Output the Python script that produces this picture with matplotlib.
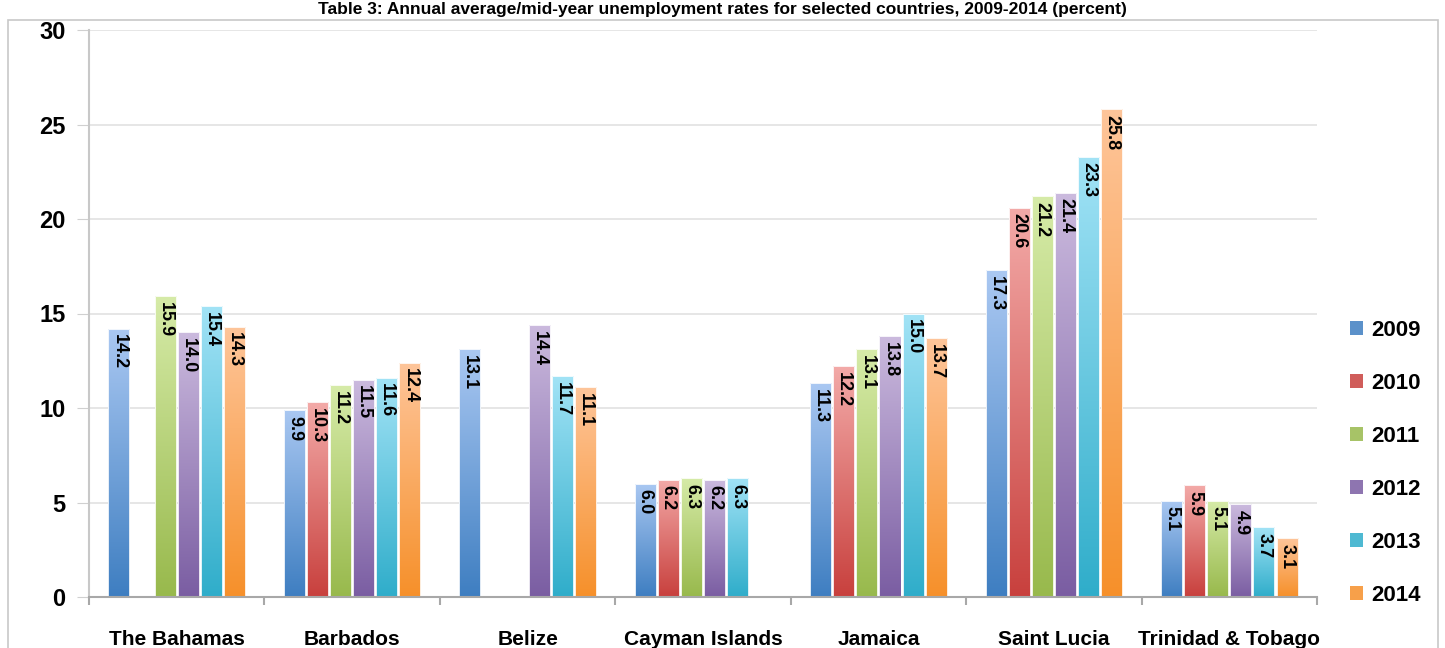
import numpy as np
import matplotlib.pyplot as plt
from matplotlib.colors import LinearSegmentedColormap
from matplotlib.patches import Rectangle

plt.rcParams['font.family'] = ['Liberation Sans', 'DejaVu Sans']

countries = ['The Bahamas', 'Barbados', 'Belize', 'Cayman Islands', 'Jamaica',
             'Saint Lucia', 'Trinidad & Tobago']
years = ['2009', '2010', '2011', '2012', '2013', '2014']
nan = np.nan
rates = {
    '2009': [14.2, 9.9, 13.1, 6.0, 11.3, 17.3, 5.1],
    '2010': [nan, 10.3, nan, 6.2, 12.2, 20.6, 5.9],
    '2011': [15.9, 11.2, nan, 6.3, 13.1, 21.2, 5.1],
    '2012': [14.0, 11.5, 14.4, 6.2, 13.8, 21.4, 4.9],
    '2013': [15.4, 11.6, 11.7, 6.3, 15.0, 23.3, 3.7],
    '2014': [14.3, 12.4, 11.1, nan, 13.7, 25.8, 3.1],
}
title = 'Table 3: Annual average/mid-year unemployment rates for selected countries, 2009-2014 (percent)'

# (top colour, bottom colour) for the gradient on each series
shades = {
    '2009': ('#aac8f2', '#3e7ec1'),
    '2010': ('#f3aaa8', '#c8403d'),
    '2011': ('#d6eba8', '#98b94c'),
    '2012': ('#cbbade', '#7a5da2'),
    '2013': ('#a2e3f6', '#2fadca'),
    '2014': ('#fec59a', '#f6902a'),
}

fig = plt.figure(figsize=(14.45, 6.48), dpi=100)
fig.patches.append(Rectangle((8 / 1445, -0.1), 1430 / 1445, 1.1 - 20 / 648,
                             transform=fig.transFigure, fill=False,
                             edgecolor='#c8c8c8', lw=1.2))
fig.text(0.5, 1 - 2 / 648, title, ha='center', va='top', fontsize=12.5,
         fontweight='bold')

ax = fig.add_axes([89 / 1445, 51 / 648, 1228 / 1445, 567 / 648])

x = np.arange(len(countries))
slot = 0.1317
width = 0.12
grad = np.linspace(1, 0, 256).reshape(-1, 1)

for i, yr in enumerate(years):
    vals = np.array(rates[yr], dtype=float)
    cmap = LinearSegmentedColormap.from_list(yr, [shades[yr][1], shades[yr][0]])
    bars = ax.bar(x + (i - 2.5) * slot, np.nan_to_num(vals), width,
                  color=shades[yr][1], label=yr, zorder=2)
    for b, v in zip(bars, vals):
        if np.isnan(v):
            b.set_visible(False)
            continue
        x0, y0 = b.get_x(), b.get_y()
        w, h = b.get_width(), b.get_height()
        b.set_facecolor('none')
        b.set_edgecolor('white')
        b.set_linewidth(0.6)
        im = ax.imshow(grad, cmap=cmap, aspect='auto',
                       extent=(x0, x0 + w, y0, y0 + h), zorder=1.5)
        im.set_clip_path(b)
        ax.text(x0 + w / 2, v - 0.3, f'{v:.1f}', rotation=270,
                ha='center', va='top', fontsize=13, fontweight='bold',
                zorder=3)

ax.set_xlim(-0.5, 6.5)
ax.set_ylim(0, 30)
ax.set_yticks(range(0, 31, 5))
ax.set_yticklabels([str(v) for v in range(0, 31, 5)], fontsize=17,
                   fontweight='bold')
ax.tick_params(axis='y', length=9, color='#d0d0d0', pad=8)
ax.set_xticks(x)
ax.set_xticklabels(countries, fontsize=15, fontweight='bold')
ax.tick_params(axis='x', which='major', length=0, pad=24)
ax.set_xticks(np.arange(-0.5, 7, 1), minor=True)
ax.tick_params(axis='x', which='minor', length=6, width=1.5, color='#a8a8a8')
ax.grid(axis='y', color='#e2e2e2', lw=1.2, zorder=0)
ax.set_axisbelow(True)
for s in ['top', 'right']:
    ax.spines[s].set_visible(False)
ax.spines['left'].set_color('#c8c8c8')
ax.spines['left'].set_linewidth(1.5)
ax.spines['bottom'].set_color('#a8a8a8')
ax.spines['bottom'].set_linewidth(1.5)

handles = [Rectangle((0, 0), 1, 1, facecolor=shades[yr][1], alpha=0.85)
           for yr in years]
leg = fig.legend(handles, years, loc='center left',
                 bbox_to_anchor=(1330 / 1445, 1 - 463 / 648), frameon=False,
                 handlelength=0.6, handleheight=0.6, handletextpad=0.35,
                 labelspacing=1.44, prop={'size': 16, 'weight': 'bold'})

fig.savefig('out.png', dpi=100)
